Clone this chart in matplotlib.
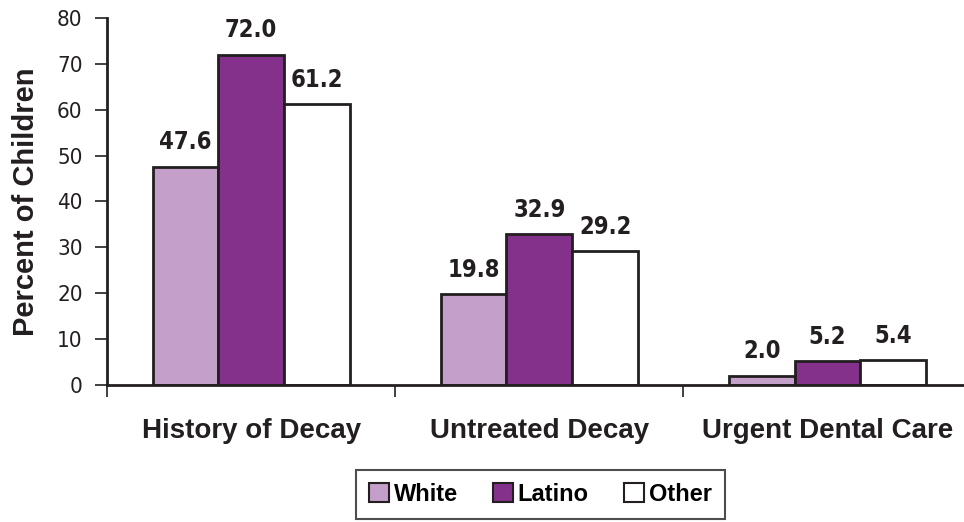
import matplotlib
matplotlib.use('Agg')
import matplotlib.pyplot as plt
from matplotlib.patches import Patch
import numpy as np

# Data
categories = ['History of Decay', 'Untreated Decay', 'Urgent Dental Care']
groups = ['White', 'Latino', 'Other']
white = [47.6, 19.8, 2.0]
latino = [72.0, 32.9, 5.2]
other = [61.2, 29.2, 5.4]
yticks = [0, 10, 20, 30, 40, 50, 60, 70, 80]

ink = '#231f20'
colors = ['#c49fc9', '#84318c', '#ffffff']
bold = ['Liberation Sans', 'DejaVu Sans']

fig = plt.figure(figsize=(9.64, 5.22), dpi=100)
ax = fig.add_axes([0.111, 0.2625, 0.897, 0.703])

x = np.arange(len(categories))
w = 0.228
series = [white, latino, other]
for i, (vals, c) in enumerate(zip(series, colors)):
    bars = ax.bar(x + (i - 1) * w, vals, w, color=c, edgecolor=ink, linewidth=2, label=groups[i])
    for b, v in zip(bars, vals):
        ax.annotate(f'{v:.1f}', (b.get_x() + b.get_width() / 2, v), xytext=(0, 9),
                    textcoords='offset points', ha='center', va='bottom',
                    fontsize=17, fontweight='bold', family='DejaVu Sans',
                    fontstretch='condensed', color=ink)

ax.set_xlim(-0.5, 2.5)
ax.set_ylim(0, 80)
ax.set_yticks(yticks)
ax.set_yticklabels([str(t) for t in yticks], family='DejaVu Sans', fontstretch='condensed',
                   fontsize=16, color=ink)
ax.tick_params(axis='y', direction='out', length=8.5, width=1.2, color=ink, pad=9)

# category ticks sit between groups
ax.set_xticks([-0.5, 0.5, 1.5])
ax.set_xticklabels([])
ax.tick_params(axis='x', direction='out', length=8.5, width=1.2, color=ink)
for xi, name in zip(x, categories):
    ax.text(xi, -0.125, name, transform=ax.get_xaxis_transform(), ha='center', va='center',
            fontsize=20, fontweight='bold', family=bold, color=ink)

ax.set_ylabel('Percent of Children', fontsize=21, fontweight='bold', family=bold, color=ink, labelpad=12)
for s in ['top', 'right']:
    ax.spines[s].set_visible(False)
for s in ['left', 'bottom']:
    ax.spines[s].set_linewidth(2)
    ax.spines[s].set_color(ink)

handles = [Patch(facecolor=c, edgecolor=ink, linewidth=1.5) for c in colors]
leg = fig.legend(handles, groups, loc='upper left', bbox_to_anchor=(0.369, 0.1), ncol=3,
                 frameon=True, fancybox=False, edgecolor=ink, handlelength=0.85,
                 handleheight=0.85, handletextpad=0.2, columnspacing=1.5, borderpad=0.55,
                 borderaxespad=0,
                 prop={'family': bold, 'weight': 'bold', 'size': 17})
leg.get_frame().set_linewidth(1.5)

fig.savefig('out.png', dpi=100)
